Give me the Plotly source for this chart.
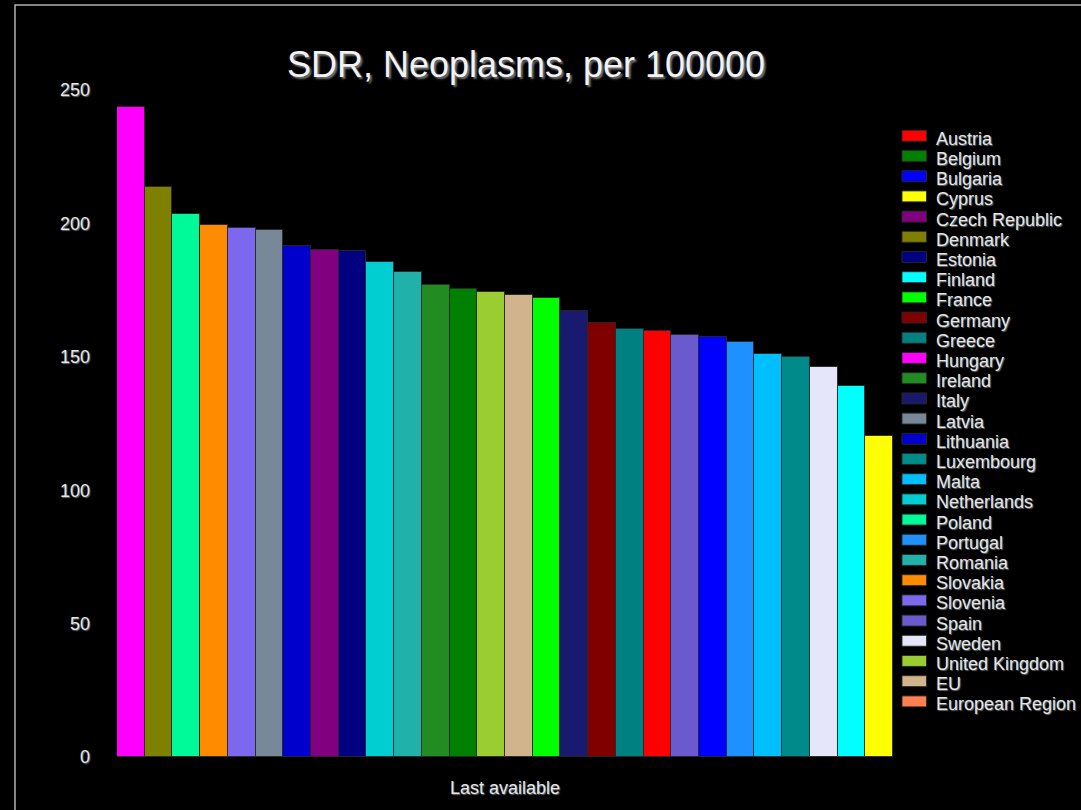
import plotly.graph_objects as go

# Legend order (as shown in reference)
countries = ["Austria", "Belgium", "Bulgaria", "Cyprus", "Czech Republic", "Denmark",
             "Estonia", "Finland", "France", "Germany", "Greece", "Hungary", "Ireland",
             "Italy", "Latvia", "Lithuania", "Luxembourg", "Malta", "Netherlands",
             "Poland", "Portugal", "Romania", "Slovakia", "Slovenia", "Spain", "Sweden",
             "United Kingdom", "EU", "European Region"]
values = [159.5, 175.6, 157.6, 120.3, 190.0, 213.8,
          189.6, 139.0, 172.1, 162.8, 160.3, 243.8, 177.0,
          167.3, 197.4, 191.5, 149.8, 150.9, 185.6,
          203.4, 155.7, 181.8, 199.3, 198.2, 158.0, 146.0,
          174.4, 173.3, None]
colors = ["red", "green", "blue", "yellow", "purple", "olive",
          "navy", "cyan", "lime", "maroon", "teal", "magenta", "forestgreen",
          "midnightblue", "lightslategray", "mediumblue", "darkcyan", "deepskyblue",
          "darkturquoise", "mediumspringgreen", "dodgerblue", "lightseagreen",
          "darkorange", "mediumslateblue", "slateblue", "lavender", "yellowgreen",
          "tan", "coral"]
category = ["Last available"]
y_ticks = [0, 50, 100, 150, 200, 250]
title_text = "SDR, Neoplasms, per 100000"

FONT = "Liberation Sans, Arial, sans-serif"
TXT = "#e6e6e6"
SHADOW = "1px 1px 1px #6a6a6a"

W, H = 1081, 810
L, R = 117, 893
T, B = 89.5, 759.5

fig = go.Figure()

# bars drawn in descending order of value
order = sorted([i for i, v in enumerate(values) if v is not None],
               key=lambda i: -values[i])
for i in order:
    fig.add_trace(go.Bar(
        x=category, y=[values[i]], name=countries[i],
        marker=dict(color=colors[i], line=dict(color="rgba(40,40,40,0.9)", width=1)),
        showlegend=False,
    ))

pw, ph = R - L, B - T
def px_x(x):
    return (x - L) / pw
def px_y(y):
    return (B - y) / ph

shapes = []
annotations = []
y0 = 135.5
step = 20.29
for k, (name, col) in enumerate(zip(countries, colors)):
    yc = y0 + k * step
    shapes.append(dict(type="rect", xref="paper", yref="paper",
                       x0=px_x(902), x1=px_x(926.5), y0=px_y(yc + 5.5), y1=px_y(yc - 5.5),
                       fillcolor=col, line=dict(color="rgba(40,40,40,0.9)", width=1)))
    annotations.append(dict(xref="paper", yref="paper", x=px_x(934), y=px_y(yc + 3),
                            text=name, showarrow=False, xanchor="left", yanchor="middle",
                            font=dict(family=FONT, size=18, color=TXT, shadow=SHADOW)))

# outer frame
shapes.append(dict(type="rect", xref="paper", yref="paper",
                   x0=px_x(15), x1=px_x(1095), y0=px_y(825), y1=px_y(4),
                   line=dict(color="#b0b0b0", width=1.5), fillcolor="rgba(0,0,0,0)"))

fig.update_layout(
    width=W, height=H,
    paper_bgcolor="black", plot_bgcolor="black",
    margin=dict(l=L, r=W - R, t=T, b=H - B, pad=0),
    barmode="group", bargap=0, bargroupgap=0,
    showlegend=False,
    title=dict(text=title_text, x=526 / W, xanchor="center",
               y=1 - 64 / H, yanchor="middle",
               font=dict(family=FONT, size=36, color="#f2f2f2", shadow="2px 2px 2px #777")),
    xaxis=dict(showgrid=False, zeroline=False, showline=False, ticks="",
               tickfont=dict(family=FONT, size=18, color=TXT, shadow=SHADOW),
               ticklabelstandoff=18),
    yaxis=dict(range=[0, 250], tickvals=y_ticks, showgrid=False, zeroline=False,
               showline=False, ticks="",
               tickfont=dict(family=FONT, size=18, color=TXT, shadow=SHADOW),
               ticklabelstandoff=26),
    shapes=shapes, annotations=annotations,
)

fig.write_html(
    "out.html",
    config={"displayModeBar": False},
    post_script="document.body.style.margin='0';document.body.style.background='black';"
                "document.body.style.overflow='hidden';",
)
